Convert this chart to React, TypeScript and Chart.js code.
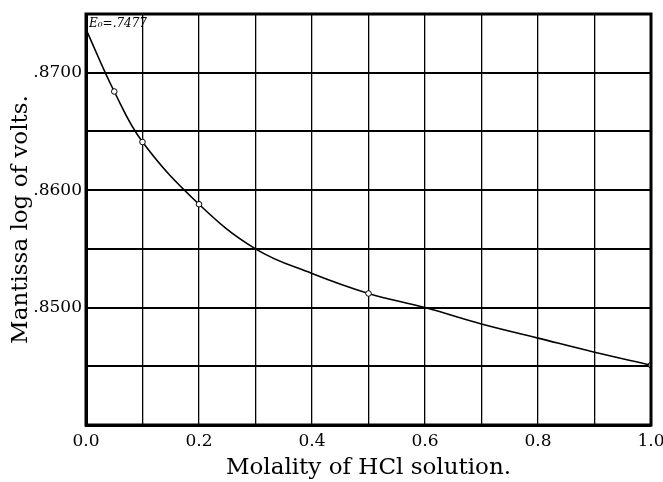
import React, { useEffect, useRef } from "react";
import { Chart, registerables } from "chart.js";

Chart.register(...registerables);

// Smooth curve (molality -> mantissa of log volts)
const curveX = [0, 0.05, 0.1, 0.2, 0.3, 0.4, 0.5, 0.6, 0.7, 0.8, 0.9, 1.0];
const curveY = [0.8737, 0.8684, 0.8641, 0.8588, 0.855, 0.8529, 0.8512, 0.85, 0.8486, 0.8474, 0.8462, 0.8451];

// Measured points (small circles)
const pointX = [0.05, 0.1, 0.2, 0.5, 1.0];
const pointY = [0.8684, 0.8641, 0.8588, 0.8512, 0.8451];

const yLabelValues = [0.85, 0.86, 0.87];
const xLabelValues = [0, 0.2, 0.4, 0.6, 0.8, 1.0];
const e0Label = "E\u2080=.7477";

const FONT = "'DejaVu Serif', 'Liberation Serif', serif";

export default function App() {
  const ref = useRef<HTMLCanvasElement | null>(null);

  useEffect(() => {
    document.body.style.margin = "0";
    const canvas = ref.current;
    if (!canvas) return;

    const frame = {
      id: "frame",
      afterDatasetsDraw(chart: any) {
        const { ctx, chartArea: a } = chart;
        ctx.save();
        ctx.strokeStyle = "#000";
        ctx.lineWidth = 3;
        ctx.strokeRect(a.left, a.top, a.right - a.left, a.bottom - a.top);
        ctx.restore();
      },
      afterDraw(chart: any) {
        const { ctx } = chart;
        const xs = chart.scales.x;
        const ys = chart.scales.y;
        ctx.save();
        ctx.fillStyle = "#000";
        ctx.font = `italic 12px ${FONT}`;
        ctx.textAlign = "left";
        ctx.textBaseline = "middle";
        ctx.fillText(e0Label, xs.getPixelForValue(0) + 3, ys.getPixelForValue(0.875) + 10);
        ctx.restore();
      },
    };

    const chart = new Chart(canvas, {
      type: "line",
      data: {
        datasets: [
          {
            data: curveX.map((x, i) => ({ x, y: curveY[i] })),
            borderColor: "#000",
            borderWidth: 1.6,
            pointRadius: 0,
            tension: 0.4,
            fill: false,
            order: 2,
          } as any,
          {
            data: pointX.map((x, i) => ({ x, y: pointY[i] })),
            showLine: false,
            pointRadius: 2.8,
            pointBackgroundColor: "#fff",
            pointBorderColor: "#000",
            pointBorderWidth: 1,
            order: 1,
          } as any,
        ],
      },
      options: {
        animation: false,
        responsive: false,
        events: [],
        layout: { padding: { left: 0, right: 12, top: 14, bottom: 0 } },
        plugins: { legend: { display: false }, tooltip: { enabled: false } },
        scales: {
          x: {
            type: "linear",
            min: 0,
            max: 1,
            afterFit(scale: any) {
              scale.height = 57;
              scale.paddingLeft = 0;
              scale.paddingRight = 0;
            },
            ticks: {
              stepSize: 0.1,
              color: "#000",
              padding: 6,
              font: { family: FONT, size: 17 },
              maxRotation: 0,
              autoSkip: false,
              callback: (v: any) => {
                const n = Number(v);
                return xLabelValues.some((t) => Math.abs(t - n) < 1e-6) ? n.toFixed(1) : "";
              },
            },
            grid: { color: "#000", lineWidth: 1.3, drawTicks: false },
            border: { display: true, color: "#000", width: 3 },
            title: {
              display: true,
              text: "Molality of HCl solution.",
              color: "#000",
              font: { family: FONT, size: 23 },
              padding: { top: 0, bottom: 0 },
            },
          },
          y: {
            type: "linear",
            min: 0.84,
            max: 0.875,
            afterFit(scale: any) {
              scale.width = 86;
              scale.paddingTop = 0;
              scale.paddingBottom = 0;
            },
            ticks: {
              stepSize: 0.005,
              color: "#000",
              padding: 4,
              font: { family: FONT, size: 17 },
              autoSkip: false,
              callback: (v: any) => {
                const n = Number(v);
                return yLabelValues.some((t) => Math.abs(t - n) < 1e-6)
                  ? "." + Math.round(n * 10000).toString()
                  : "";
              },
            },
            grid: { color: "#000", lineWidth: 2, drawTicks: false },
            border: { display: true, color: "#000", width: 3 },
            title: {
              display: true,
              text: "Mantissa log of volts.",
              color: "#000",
              font: { family: FONT, size: 23 },
              padding: { top: 7, bottom: 0 },
            },
          },
        },
      },
      plugins: [frame],
    });

    return () => chart.destroy();
  }, []);

  return (
    <div style={{ width: 663, height: 482 }}>
      <canvas ref={ref} width={663} height={482} style={{ width: 663, height: 482, display: "block" }} />
    </div>
  );
}
